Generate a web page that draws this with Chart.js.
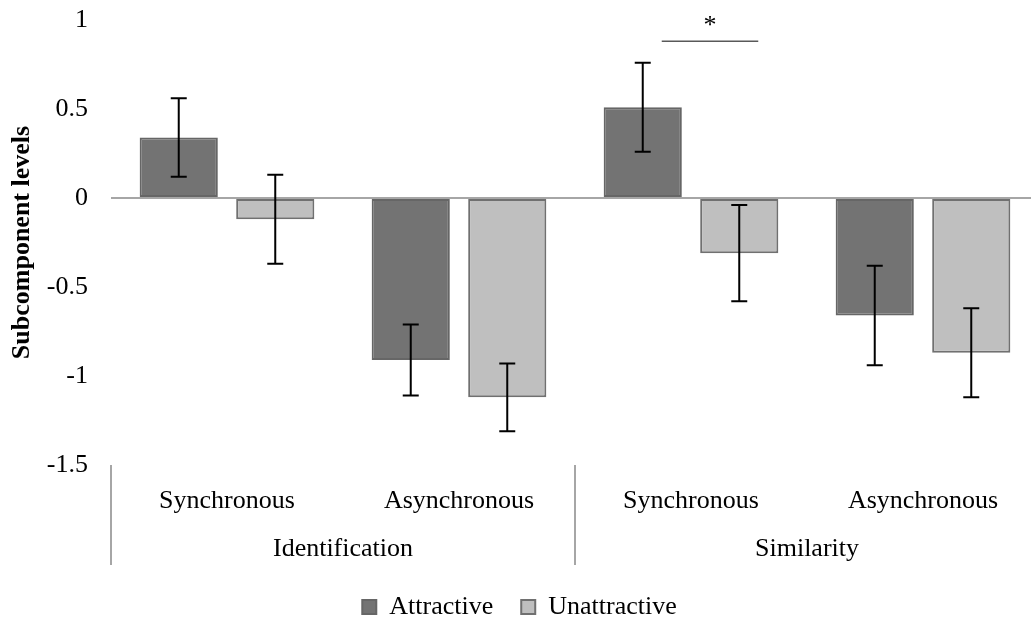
<!DOCTYPE html>
<html>
<head>
<meta charset="utf-8">
<script src="https://cdn.jsdelivr.net/npm/chart.js@4.4.1/dist/chart.umd.min.js"></script>
<style>
html,body{margin:0;padding:0;background:#fff;overflow:hidden}
#wrap{width:1031px;height:622px;overflow:hidden}
canvas{display:block}
</style>
</head>
<body>
<div id="wrap"><canvas id="c" width="1048" height="630"></canvas></div>
<script>
/* ===== DATA ===== */
const conditions=['Synchronous','Asynchronous','Synchronous','Asynchronous'];
const subcomponents=['Identification','Similarity'];
const attractive=[0.34,-0.91,0.51,-0.66];
const attractiveErr=[0.22,0.20,0.25,0.28];
const unattractive=[-0.12,-1.12,-0.31,-0.87];
const unattractiveErr=[0.25,0.19,0.27,0.25];
const yMin=-1.5,yMax=1,yStep=0.5;
const sigIndex=2, sigLevel=0.88, sigMark='*';

const SERIF='"Liberation Serif","Times New Roman",serif';

// error bars from the value arrays
const errorBars={
  id:'errorBars',
  afterDatasetsDraw(chart){
    const ctx=chart.ctx,y=chart.scales.y;
    const errs=[attractiveErr,unattractiveErr];
    ctx.save();
    ctx.strokeStyle='#000';ctx.lineWidth=2;
    chart.data.datasets.forEach((ds,i)=>{
      const meta=chart.getDatasetMeta(i);
      meta.data.forEach((bar,j)=>{
        const v=ds.data[j],e=errs[i][j];
        const yt=y.getPixelForValue(v+e),yb=y.getPixelForValue(v-e);
        const x=bar.x;
        ctx.beginPath();
        ctx.moveTo(x,yt);ctx.lineTo(x,yb);
        ctx.moveTo(x-8,yt);ctx.lineTo(x+8,yt);
        ctx.moveTo(x-8,yb);ctx.lineTo(x+8,yb);
        ctx.stroke();
      });
    });
    ctx.restore();
  }
};

// group separators below the plot + significance mark
const extras={
  id:'extras',
  afterDraw(chart){
    const ctx=chart.ctx,x=chart.scales.x,y=chart.scales.y,ca=chart.chartArea;
    ctx.save();
    ctx.strokeStyle='#a6a6a6';ctx.lineWidth=2;
    const mid=(x.getPixelForValue(1)+x.getPixelForValue(2))/2;
    [x.left,mid,x.right].forEach(px=>{
      ctx.beginPath();ctx.moveTo(px,ca.bottom);ctx.lineTo(px,ca.bottom+100);ctx.stroke();
    });
    // significance bracket
    const a=chart.getDatasetMeta(0).data[sigIndex],b=chart.getDatasetMeta(1).data[sigIndex];
    const sy=y.getPixelForValue(sigLevel);
    const x0=a.x+19,x1=b.x+19;
    ctx.strokeStyle='#595959';ctx.lineWidth=1.5;
    ctx.beginPath();ctx.moveTo(x0,sy);ctx.lineTo(x1,sy);ctx.stroke();
    ctx.fillStyle='#000';ctx.font='26px '+SERIF;ctx.textAlign='center';ctx.textBaseline='alphabetic';
    ctx.fillText(sigMark,(x0+x1)/2,sy-8);
    ctx.restore();
  }
};

new Chart(document.getElementById('c').getContext('2d'),{
  type:'bar',
  data:{
    labels:conditions,
    datasets:[{
      label:'Attractive',data:attractive,
      backgroundColor:'#737373',borderColor:'#666666',borderWidth:2,borderSkipped:false,
      categoryPercentage:0.832,barPercentage:0.81
    },{
      label:'Unattractive',data:unattractive,
      backgroundColor:'#bfbfbf',borderColor:'#707070',borderWidth:2,borderSkipped:false,
      categoryPercentage:0.832,barPercentage:0.81
    }]
  },
  options:{
    responsive:false,animation:false,devicePixelRatio:1,
    layout:{padding:{top:4,right:9,left:0,bottom:0}},
    plugins:{
      tooltip:{enabled:false},
      legend:{
        position:'bottom',
        labels:{color:'#000',font:{family:SERIF,size:26},boxWidth:14,boxHeight:14,padding:28}
      }
    },
    scales:{
      x:{
        grid:{display:false},border:{display:false},
        ticks:{color:'#000',font:{family:SERIF,size:26},padding:13,maxRotation:0,autoSkip:false},
        afterFit:s=>{s.height=56;}
      },
      x2:{
        type:'category',position:'bottom',labels:subcomponents,offset:true,
        grid:{display:false},border:{display:false},
        ticks:{color:'#000',font:{family:SERIF,size:26},padding:5,maxRotation:0,autoSkip:false},
        afterFit:s=>{s.height=45;}
      },
      y:{
        min:yMin,max:yMax,
        ticks:{stepSize:yStep,color:'#000',font:{family:SERIF,size:26},padding:23,callback:v=>String(v)},
        grid:{drawTicks:false,lineWidth:2,color:c=>c.tick&&c.tick.value===0?'#a6a6a6':'rgba(0,0,0,0)'},
        border:{display:false},
        title:{display:true,text:'Subcomponent levels',color:'#000',font:{family:SERIF,size:26,weight:'bold'},padding:{top:7,bottom:0}},
        afterFit:s=>{s.width=111;s.paddingTop=20;s.paddingBottom=0;}
      }
    }
  },
  plugins:[errorBars,extras]
});
</script>
</body>
</html>
